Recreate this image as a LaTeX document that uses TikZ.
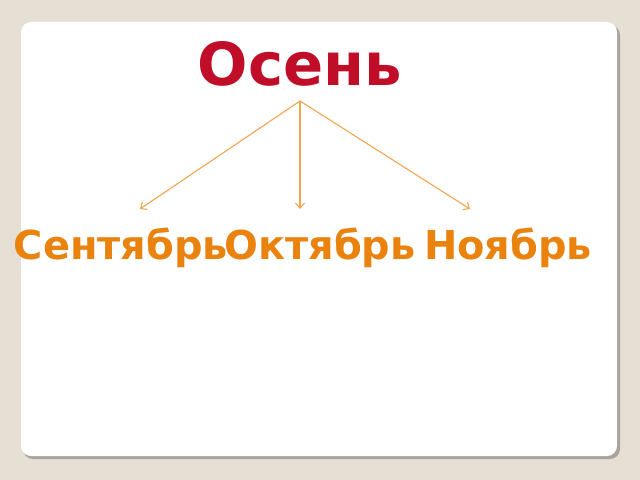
\documentclass[tikz,border=0pt]{standalone}
\usepackage{fontspec}
\setmainfont{DejaVu Sans}
\usetikzlibrary{arrows.meta}
\definecolor{bgc}{HTML}{E6DFD4}
\definecolor{shadowc}{HTML}{A8A49C}
\definecolor{titlec}{HTML}{C00E29}
\definecolor{labc}{HTML}{EA820E}
\definecolor{arrc}{HTML}{F2A650}
\tikzset{
  title/.style={font=\fontsize{59.5}{62}\selectfont\bfseries, text=titlec, inner sep=0pt, anchor=base},
  month/.style={font=\fontsize{40}{44}\selectfont\bfseries, text=labc, inner sep=0pt, anchor=base},
  arr/.style={draw=arrc, line width=1.1pt, -{Straight Barb[length=5pt,width=9pt]}}
}
\begin{document}
\begin{tikzpicture}[x=1bp,y=-1bp]
\useasboundingbox (0,0) rectangle (640,480);
\fill[bgc] (0,0) rectangle (640,480);
\fill[shadowc, rounded corners=10bp] (23,25) rectangle (620,459);
\fill[white, rounded corners=10bp] (21,22) rectangle (617,456);
\node[title] (t) at (300,86) {Осень};
\coordinate (apex) at (300,101);
\node[month] (s) at (121,259) {Сентябрь};
\node[month] (o) at (320,259) {Октябрь};
\node[month] (n) at (508,259) {Ноябрь};
\coordinate (ts) at (140,209);
\coordinate (to) at (300,209);
\coordinate (tn) at (470,209);
\draw[arr] (apex) -- (ts);
\draw[arr] (apex) -- (to);
\draw[arr] (apex) -- (tn);
\end{tikzpicture}
\end{document}
